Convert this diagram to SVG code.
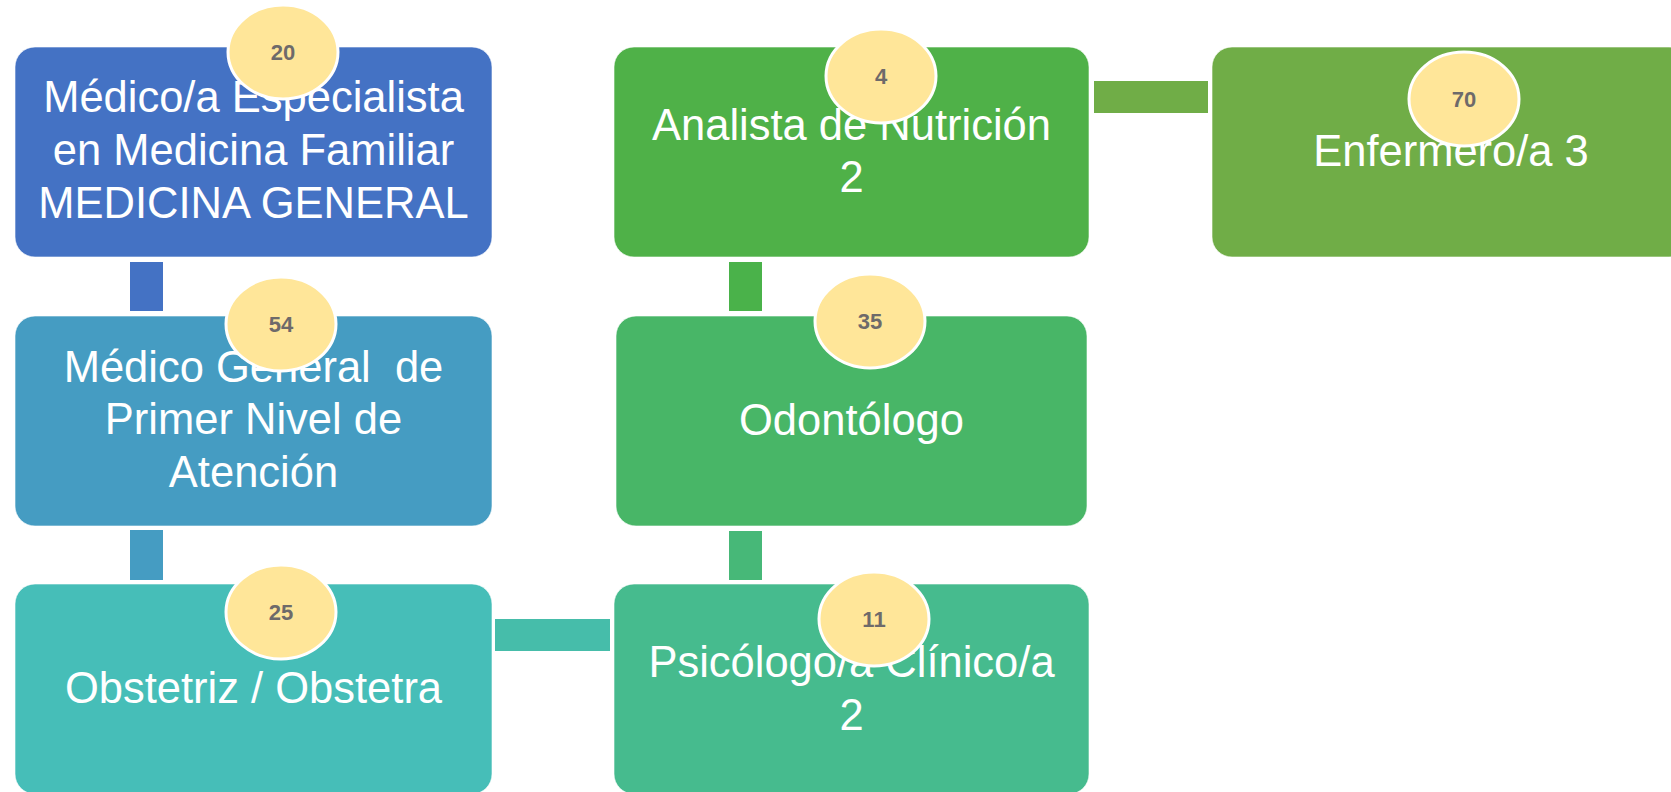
<svg xmlns="http://www.w3.org/2000/svg" width="1671" height="792" viewBox="0 0 1671 792">
<style>
.box{stroke:#ffffff;stroke-opacity:0.6;stroke-width:1}
.lbl{font-family:"Liberation Sans",Arial,sans-serif;font-size:43.5px;fill:#ffffff;text-anchor:middle;white-space:pre}
.badge{fill:#FFE699;stroke:#ffffff;stroke-width:3}
.num{font-family:"Liberation Sans",Arial,sans-serif;font-size:22px;font-weight:bold;fill:#6E6A6A;text-anchor:middle}
</style>
<rect width="1671" height="792" fill="#ffffff"/>
<g id="connectors">
<rect x="130" y="262" width="33" height="49" fill="#4472C4"/>
<rect x="130" y="530" width="33" height="50" fill="#459CC2"/>
<rect x="495" y="619" width="115" height="32" fill="#46BDAA"/>
<rect x="729" y="531" width="33" height="49" fill="#47B878"/>
<rect x="729" y="262" width="33" height="49" fill="#4AB24A"/>
<rect x="1094" y="81" width="114" height="32" fill="#70AD47"/>
</g>
<g id="node-medico-especialista">
<rect class="box" x="15" y="47" width="477" height="210" rx="20" fill="#4472C4"/>
<text class="lbl" x="253.5" y="112">Médico/a Especialista</text>
<text class="lbl" x="253.5" y="165">en Medicina Familiar</text>
<text class="lbl" x="253.5" y="218">MEDICINA GENERAL</text>
<ellipse class="badge" cx="283" cy="52" rx="55" ry="47"/>
<text class="num" x="283" y="60">20</text>
</g>
<g id="node-medico-general">
<rect class="box" x="15" y="316" width="477" height="210" rx="20" fill="#459CC2"/>
<text class="lbl" x="253.5" y="382">Médico General  de</text>
<text class="lbl" x="253.5" y="434">Primer Nivel de</text>
<text class="lbl" x="253.5" y="487">Atención</text>
<ellipse class="badge" cx="281" cy="324" rx="55" ry="47"/>
<text class="num" x="281" y="332">54</text>
</g>
<g id="node-obstetriz">
<rect class="box" x="15" y="584" width="477" height="210" rx="20" fill="#46BEB8"/>
<text class="lbl" x="253.5" y="703">Obstetriz / Obstetra</text>
<ellipse class="badge" cx="281" cy="612" rx="55" ry="47"/>
<text class="num" x="281" y="620">25</text>
</g>
<g id="node-psicologo">
<rect class="box" x="614" y="584" width="475" height="210" rx="20" fill="#46BB8E"/>
<text class="lbl" x="851.5" y="677">Psicólogo/a Clínico/a</text>
<text class="lbl" x="851.5" y="730">2</text>
<ellipse class="badge" cx="874" cy="619" rx="55" ry="47"/>
<text class="num" x="874" y="627">11</text>
</g>
<g id="node-odontologo">
<rect class="box" x="616" y="316" width="471" height="210" rx="20" fill="#48B667"/>
<text class="lbl" x="851.5" y="435">Odontólogo</text>
<ellipse class="badge" cx="870" cy="321" rx="55" ry="47"/>
<text class="num" x="870" y="329">35</text>
</g>
<g id="node-analista">
<rect class="box" x="614" y="47" width="475" height="210" rx="20" fill="#4FB148"/>
<text class="lbl" x="851.5" y="140">Analista de Nutrición</text>
<text class="lbl" x="851.5" y="192">2</text>
<ellipse class="badge" cx="881" cy="76" rx="55" ry="47"/>
<text class="num" x="881" y="84">4</text>
</g>
<g id="node-enfermero">
<rect class="box" x="1212" y="47" width="477" height="210" rx="20" fill="#70AD47"/>
<text class="lbl" x="1451" y="166">Enfermero/a 3</text>
<ellipse class="badge" cx="1464" cy="99" rx="55" ry="47"/>
<text class="num" x="1464" y="107">70</text>
</g>
</svg>
